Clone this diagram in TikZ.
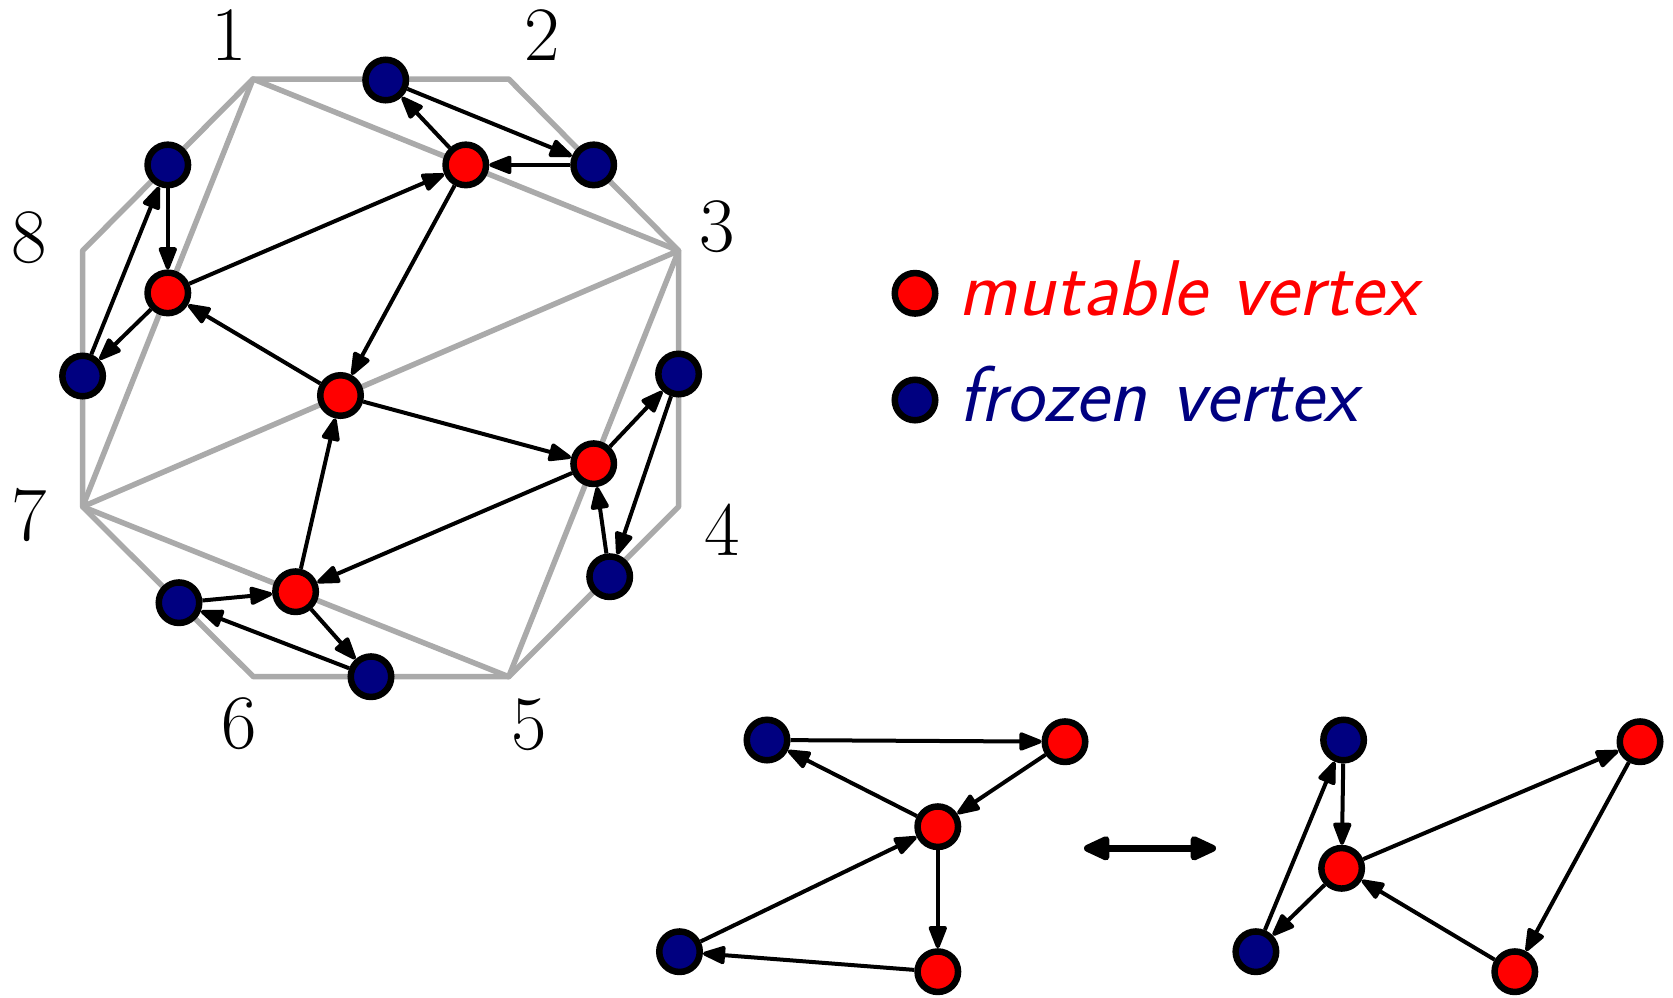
\documentclass[tikz,border=0pt]{standalone}
\usepackage{fontspec}
\usetikzlibrary{arrows.meta}
\definecolor{navyv}{RGB}{0,0,128}
\definecolor{redv}{RGB}{255,0,0}
\definecolor{grayl}{RGB}{170,170,170}
\begin{document}
\begin{tikzpicture}[x=1pt,y=-1pt,
  vert/.style={circle,draw=black,line width=6.5pt,minimum size=40.5pt,inner sep=0pt},
  mut/.style={vert,fill=redv},
  frz/.style={vert,fill=navyv},
  arr/.style={-{Triangle[length=26pt,width=19pt,round]},line width=4pt},
  tri/.style={grayl,line width=5.5pt,line join=round},
  lbl/.style={font=\fontsize{77}{90}\selectfont,inner sep=0pt},
  leg/.style={font=\fontsize{79}{90}\selectfont\sffamily\itshape,inner sep=0pt,anchor=base west}]
\useasboundingbox (0,0) rectangle (1673,997);
% octagon vertices
\coordinate (p1) at (253,79);
\coordinate (p2) at (508.7,79);
\coordinate (p3) at (678.6,250.7);
\coordinate (p4) at (678.6,506.7);
\coordinate (p5) at (508.7,676.7);
\coordinate (p6) at (253.4,676.7);
\coordinate (p7) at (82.6,506.7);
\coordinate (p8) at (82.6,250.7);
\draw[tri] (p1) -- (p2) -- (p3) -- (p4) -- (p5) -- (p6) -- (p7) -- (p8) -- cycle;
\draw[tri] (p1) -- (p3) -- (p7) -- cycle;
\draw[tri] (p3) -- (p5) -- (p7);
% labels
\node[lbl] (l1) at (228.7,35) {1};
\node[lbl] (l2) at (541.8,35) {2};
\node[lbl] (l3) at (717,227) {3};
\node[lbl] (l4) at (722.4,530) {4};
\node[lbl] (l5) at (529.4,725) {5};
\node[lbl] (l6) at (238.8,723.3) {6};
\node[lbl] (l7) at (29.3,515) {7};
\node[lbl] (l8) at (29.3,238) {8};
% main quiver
\node[frz] (Bt) at (385.7,80) {};
\node[frz] (B23) at (593.7,164.9) {};
\node[mut] (A) at (465.8,164.9) {};
\node[frz] (B81) at (167.8,164.9) {};
\node[mut] (R1) at (167.8,292.9) {};
\node[frz] (B78) at (82.6,376) {};
\node[mut] (C) at (340.5,395.5) {};
\node[mut] (D) at (593.7,463.7) {};
\node[frz] (B34) at (678.6,374) {};
\node[mut] (E) at (295.6,591.7) {};
\node[frz] (B67) at (179,602.7) {};
\node[frz] (B56) at (371,676.7) {};
\node[frz] (B45) at (609.7,576.7) {};
\draw[arr] (A) -- (Bt);
\draw[arr] (Bt) -- (B23);
\draw[arr] (B23) -- (A);
\draw[arr] (R1) -- (A);
\draw[arr] (A) -- (C);
\draw[arr] (C) -- (R1);
\draw[arr] (R1) -- (B78);
\draw[arr] (B78) -- (B81);
\draw[arr] (B81) -- (R1);
\draw[arr] (C) -- (D);
\draw[arr] (D) -- (B34);
\draw[arr] (B34) -- (B45);
\draw[arr] (B45) -- (D);
\draw[arr] (D) -- (E);
\draw[arr] (E) -- (C);
\draw[arr] (B67) -- (E);
\draw[arr] (E) -- (B56);
\draw[arr] (B56) -- (B67);
% legend
\node[mut] (lm) at (915,293.3) {};
\node[frz] (lf) at (915,400) {};
\node[leg,text=redv] (tm) at (958,315) {mutable vertex};
\node[leg,text=navyv] (tf) at (958,421.7) {frozen vertex};
% left small quiver
\node[frz] (a1) at (767,740) {};
\node[mut] (a2) at (1065,741.7) {};
\node[mut] (a3) at (937.8,826.7) {};
\node[frz] (a4) at (679.5,951.7) {};
\node[mut] (a5) at (937.8,971.7) {};
\draw[arr] (a1) -- (a2);
\draw[arr] (a2) -- (a3);
\draw[arr] (a3) -- (a1);
\draw[arr] (a4) -- (a3);
\draw[arr] (a3) -- (a5);
\draw[arr] (a5) -- (a4);
% double arrow
\coordinate (dl) at (1084,848.3);
\coordinate (dr) at (1216,848.3);
\draw[{Triangle[length=31pt,width=26pt,round]}-{Triangle[length=31pt,width=26pt,round]},line width=7pt] (dl) -- (dr);
% right small quiver
\node[frz] (b1) at (1343.6,740) {};
\node[mut] (b2) at (1640,741.7) {};
\node[mut] (b3) at (1341.6,868.3) {};
\node[frz] (b4) at (1255.9,951.7) {};
\node[mut] (b5) at (1514.8,971.7) {};
\draw[arr] (b1) -- (b3);
\draw[arr] (b4) -- (b1);
\draw[arr] (b3) -- (b4);
\draw[arr] (b3) -- (b2);
\draw[arr] (b2) -- (b5);
\draw[arr] (b5) -- (b3);
\end{tikzpicture}
\end{document}
